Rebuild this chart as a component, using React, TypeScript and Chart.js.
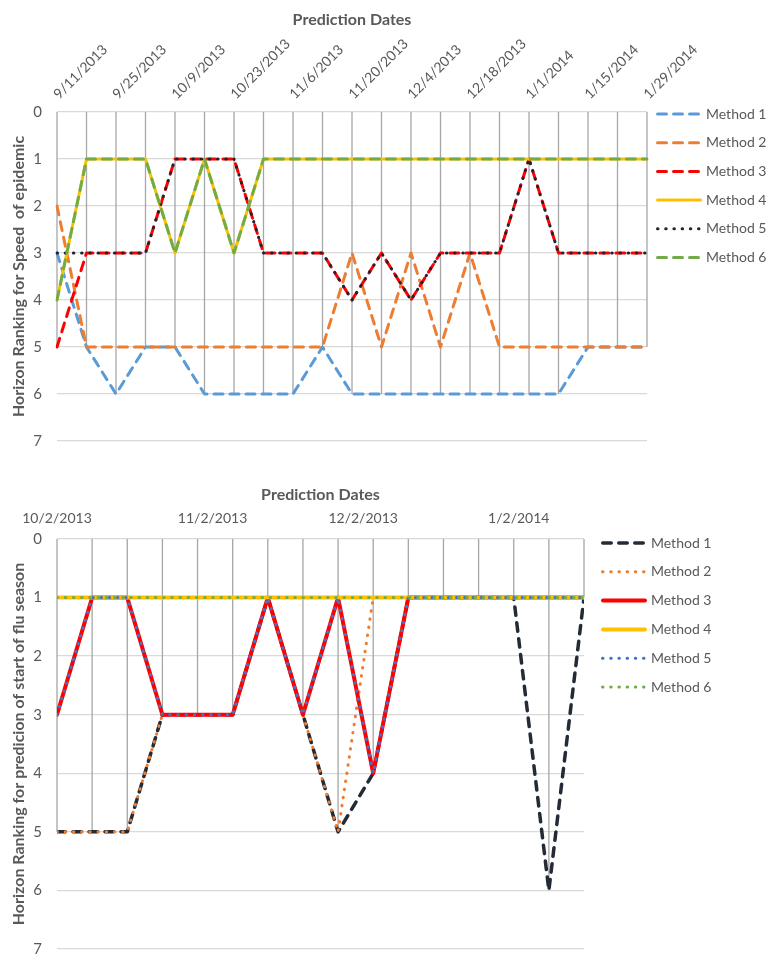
import { useEffect, useRef } from 'react';
import { Chart, registerables } from 'chart.js';

Chart.register(...registerables);

const FONT = 'Lato, "Open Sans", sans-serif';
const TEXT = '#595959';
const GRID = '#d9d9d9';
const DROP = '#a6a6a6';

// ---- Top chart: ranking for speed of epidemic, weekly prediction dates ----
const speedDates = [
  '9/11/2013', '9/18/2013', '9/25/2013', '10/2/2013', '10/9/2013', '10/16/2013', '10/23/2013',
  '10/30/2013', '11/6/2013', '11/13/2013', '11/20/2013', '11/27/2013', '12/4/2013', '12/11/2013',
  '12/18/2013', '12/25/2013', '1/1/2014', '1/8/2014', '1/15/2014', '1/22/2014', '1/29/2014',
];
const speedMethod1 = [3, 5, 6, 5, 5, 6, 6, 6, 6, 5, 6, 6, 6, 6, 6, 6, 6, 6, 5, 5, 5];
const speedMethod2 = [2, 5, 5, 5, 5, 5, 5, 5, 5, 5, 3, 5, 3, 5, 3, 5, 5, 5, 5, 5, 5];
const speedMethod3 = [5, 3, 3, 3, 1, 1, 1, 3, 3, 3, 4, 3, 4, 3, 3, 3, 1, 3, 3, 3, 3];
const speedMethod4 = [4, 1, 1, 1, 3, 1, 3, 1, 1, 1, 1, 1, 1, 1, 1, 1, 1, 1, 1, 1, 1];
const speedMethod5 = [3, 3, 3, 3, 1, 1, 1, 3, 3, 3, 4, 3, 4, 3, 3, 3, 1, 3, 3, 3, 3];
const speedMethod6 = [4, 1, 1, 1, 3, 1, 3, 1, 1, 1, 1, 1, 1, 1, 1, 1, 1, 1, 1, 1, 1];

// ---- Bottom chart: ranking for prediction of start of flu season ----
const fluDates = [
  '10/2/2013', '10/9/2013', '10/16/2013', '10/23/2013', '10/30/2013', '11/6/2013', '11/13/2013',
  '11/20/2013', '11/27/2013', '12/4/2013', '12/11/2013', '12/18/2013', '12/25/2013', '1/1/2014',
  '1/8/2014', '1/15/2014',
];
const fluTickLabels = ['10/2/2013', '11/2/2013', '12/2/2013', '1/2/2014'];
const fluMethod1 = [5, 5, 5, 3, 3, 3, 1, 3, 5, 4, 1, 1, 1, 1, 6, 1];
const fluMethod2 = [5, 5, 5, 3, 3, 3, 1, 3, 5, 1, 1, 1, 1, 1, 1, 1];
const fluMethod3 = [3, 1, 1, 3, 3, 3, 1, 3, 1, 4, 1, 1, 1, 1, 1, 1];
const fluMethod4 = [1, 1, 1, 1, 1, 1, 1, 1, 1, 1, 1, 1, 1, 1, 1, 1];
const fluMethod5 = [3, 1, 1, 3, 3, 3, 1, 3, 1, 4, 1, 1, 1, 1, 1, 1];
const fluMethod6 = [1, 1, 1, 1, 1, 1, 1, 1, 1, 1, 1, 1, 1, 1, 1, 1];

const rankTicks = [0, 1, 2, 3, 4, 5, 6, 7];

// days since the Unix epoch for an m/d/yyyy string
function dayNumber(s: string): number {
  const [m, d, y] = s.split('/').map(Number);
  return Date.UTC(y, m - 1, d) / 86400000;
}
const fluStart = dayNumber(fluDates[0]);
const fluDay = (s: string) => dayNumber(s) - fluStart;

// line style presets
const dashed = (color: string, width = 3) => ({
  borderColor: color, borderWidth: width, borderDash: [9, 7], borderCapStyle: 'round',
});
const dotted = (color: string, width = 3) => ({
  borderColor: color, borderWidth: width, borderDash: [0.5, 7.7], borderCapStyle: 'round',
});
const solid = (color: string, width = 3) => ({
  borderColor: color, borderWidth: width, borderDash: [], borderCapStyle: 'round',
});

// vertical drop lines from the axis (rank 0) to the deepest rank of each date
const dropLines = {
  id: 'dropLines',
  beforeDatasetsDraw(chart: any) {
    const { ctx } = chart;
    const y = chart.scales.y;
    const sets = chart.data.datasets;
    const meta = chart.getDatasetMeta(0);
    ctx.save();
    ctx.strokeStyle = DROP;
    ctx.lineWidth = 1.3;
    meta.data.forEach((pt: any, i: number) => {
      let deepest = 0;
      sets.forEach((ds: any) => {
        const p = ds.data[i];
        const v = typeof p === 'number' ? p : p.y;
        if (v > deepest) deepest = v;
      });
      ctx.beginPath();
      ctx.moveTo(pt.x, y.getPixelForValue(0));
      ctx.lineTo(pt.x, y.getPixelForValue(deepest));
      ctx.stroke();
    });
    ctx.restore();
  },
};

// legend column to the right of the plot area
const sideLegend = {
  id: 'sideLegend',
  afterDraw(chart: any, _args: any, opts: any) {
    const { ctx, chartArea } = chart;
    chart.data.datasets.forEach((ds: any, k: number) => {
      const y = chartArea.top + opts.top + k * opts.spacing;
      const x0 = chartArea.right + opts.left;
      const w = ds.borderWidth;
      const inset = ds.borderCapStyle === 'round' ? w / 2 : 0;
      ctx.save();
      ctx.strokeStyle = ds.borderColor;
      ctx.lineWidth = w;
      ctx.lineCap = ds.borderCapStyle || 'butt';
      ctx.setLineDash(ds.borderDash || []);
      ctx.beginPath();
      ctx.moveTo(x0 + inset, y);
      ctx.lineTo(x0 + opts.sample - inset, y);
      ctx.stroke();
      ctx.setLineDash([]);
      ctx.fillStyle = TEXT;
      ctx.font = `14px ${FONT}`;
      ctx.textBaseline = 'middle';
      ctx.textAlign = 'left';
      ctx.fillText(ds.label, x0 + opts.sample + opts.gap, y);
      ctx.restore();
    });
  },
};

const rankAxis = (title: string) => ({
  reverse: true,
  min: 0,
  max: 7,
  afterBuildTicks: (s: any) => { s.ticks = rankTicks.map((v) => ({ value: v })); },
  afterFit: (s: any) => { s.width = 57; },
  grid: { color: GRID, lineWidth: 1.3, drawTicks: false },
  border: { display: false },
  ticks: { color: TEXT, font: { family: FONT, size: 15 }, padding: 15 },
  title: {
    display: true, text: title, color: TEXT,
    font: { family: FONT, size: 16, weight: 'bold' }, padding: { top: 9, bottom: 0 },
  },
});

function speedConfig(): any {
  const series = [speedMethod1, speedMethod2, speedMethod3, speedMethod4, speedMethod5, speedMethod6];
  const styles = [
    dashed('#5b9bd5'), dashed('#ed7d31'), dashed('#ff0000'),
    solid('#ffc000'), dotted('#1f2430'), dashed('#70ad47'),
  ];
  return {
    type: 'line',
    data: {
      labels: speedDates,
      datasets: series.map((d, i) => ({
        label: `Method ${i + 1}`, data: d, ...styles[i], order: -i,
        fill: false, tension: 0, pointRadius: 0, borderJoinStyle: 'round',
      })),
    },
    options: {
      responsive: false,
      animation: false,
      layout: { padding: { top: 0, left: 0, right: 120, bottom: 18 } },
      plugins: {
        legend: { display: false },
        tooltip: { enabled: false },
        sideLegend: { left: 9, top: 2, spacing: 28.7, sample: 46, gap: 4 },
      },
      scales: {
        x: {
          type: 'category',
          position: 'top',
          afterFit: (s: any) => { s.height = 112; },
          grid: { display: false, drawTicks: false },
          border: { display: false },
          ticks: {
            autoSkip: false, minRotation: 45, maxRotation: 45, padding: 15,
            color: TEXT, font: { family: FONT, size: 14, lineHeight: 0.1 },
            callback: (_v: any, i: number) => (i % 2 === 0 ? speedDates[i] : ''),
          },
          title: {
            display: true, text: 'Prediction Dates', color: TEXT,
            font: { family: FONT, size: 16, weight: 'bold' }, padding: { top: 10.5, bottom: 0 },
          },
        },
        y: rankAxis('Horizon Ranking for Speed  of epidemic'),
      },
    },
    plugins: [dropLines, sideLegend],
  };
}

function fluConfig(): any {
  const series = [fluMethod1, fluMethod2, fluMethod3, fluMethod4, fluMethod5, fluMethod6];
  const styles = [
    { ...dashed('#232b36', 3.5), borderDash: [8.5, 7.5] },
    dotted('#ed7d31', 3), solid('#ff0000', 4), solid('#ffc000', 4),
    dotted('#4472c4', 3), dotted('#70ad47', 3),
  ];
  return {
    type: 'line',
    data: {
      datasets: series.map((d, i) => ({
        label: `Method ${i + 1}`,
        data: d.map((v, k) => ({ x: fluDay(fluDates[k]), y: v })),
        ...styles[i], order: -i,
        fill: false, tension: 0, pointRadius: 0, borderJoinStyle: 'round',
      })),
    },
    options: {
      responsive: false,
      animation: false,
      layout: { padding: { top: 0, left: 0, right: 183, bottom: 4 } },
      plugins: {
        legend: { display: false },
        tooltip: { enabled: false },
        sideLegend: { left: 17, top: 4, spacing: 28.8, sample: 46, gap: 4 },
      },
      scales: {
        x: {
          type: 'linear',
          position: 'top',
          min: 0,
          max: fluDay(fluDates[fluDates.length - 1]),
          afterBuildTicks: (s: any) => { s.ticks = fluTickLabels.map((l) => ({ value: fluDay(l) })); },
          afterFit: (s: any) => { s.height = 74; },
          grid: { display: false, drawTicks: false },
          border: { display: false },
          ticks: {
            autoSkip: false, maxRotation: 0, padding: 12,
            color: TEXT, font: { family: FONT, size: 14 },
            callback: (_v: any, i: number) => fluTickLabels[i],
          },
          title: {
            display: true, text: 'Prediction Dates', color: TEXT,
            font: { family: FONT, size: 16, weight: 'bold' }, padding: { top: 20.5, bottom: 0 },
          },
        },
        y: rankAxis('Horizon Ranking for predicion of start of flu season'),
      },
    },
    plugins: [dropLines, sideLegend],
  };
}

function LineChart({ make, top, height }: { make: () => any; top: number; height: number }) {
  const ref = useRef<HTMLCanvasElement>(null);
  useEffect(() => {
    const chart = new Chart(ref.current as HTMLCanvasElement, make());
    return () => chart.destroy();
  }, [make]);
  return (
    <canvas
      ref={ref}
      width={767}
      height={height}
      style={{ position: 'absolute', left: 0, top, width: 767, height }}
    />
  );
}

export default function App() {
  return (
    <div style={{ position: 'absolute', left: 0, top: 0, width: 767, height: 973, background: '#fff' }}>
      <LineChart make={speedConfig} top={0} height={465} />
      <LineChart make={fluConfig} top={465} height={508} />
    </div>
  );
}
